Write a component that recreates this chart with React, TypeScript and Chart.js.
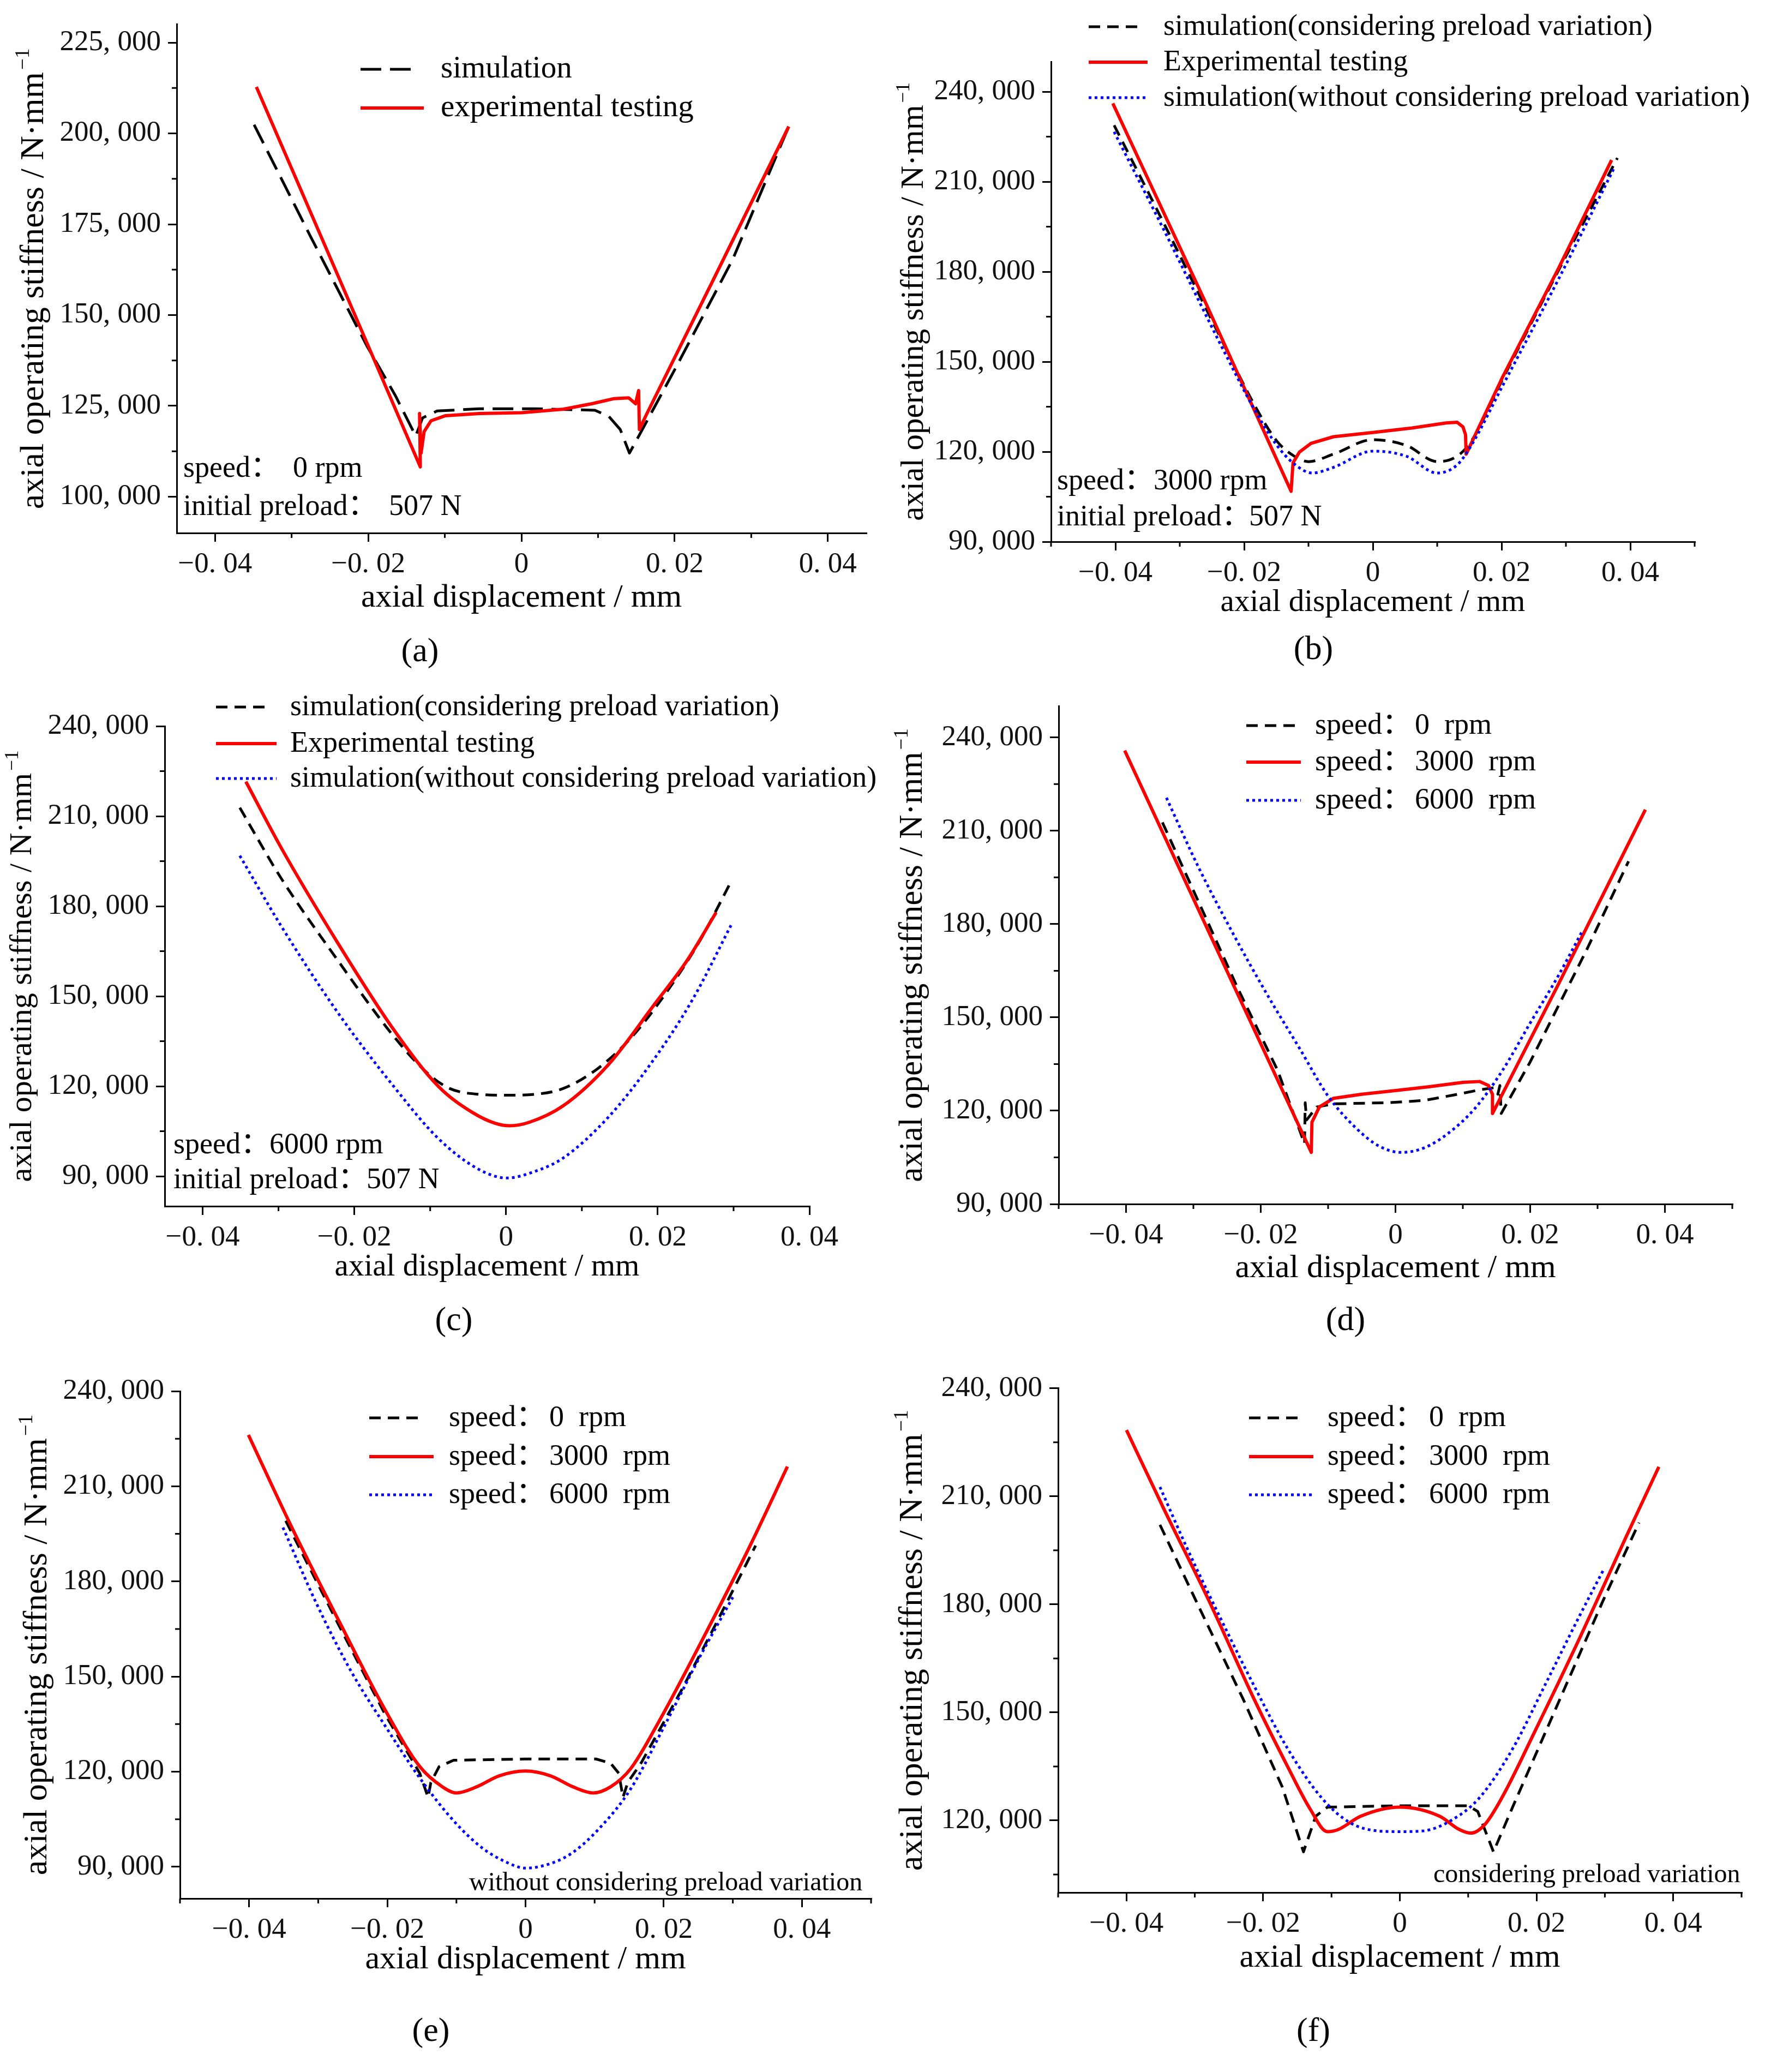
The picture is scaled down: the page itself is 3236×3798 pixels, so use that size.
import { useEffect, useRef } from 'react'
import { Chart, registerables } from 'chart.js'

Chart.register(...registerables)

type Pt = [number, number]

// (a) speed 0 rpm, initial preload 507 N
const aSimulation: Pt[] = [
  [-0.0349, 202400], [-0.0276, 171900], [-0.0202, 141600], [-0.0165, 128000], [-0.0138, 116700],
  [-0.0129, 121700], [-0.011, 123600], [-0.0055, 124200], [0.0018, 124200], [0.0096, 123800],
  [0.0114, 122100], [0.0129, 118500], [0.0141, 112000], [0.0154, 117000], [0.0202, 135700],
  [0.0276, 165400], [0.0349, 201900],
]
const aExperiment: Pt[] = [
  [-0.0346, 212800], [-0.0239, 160600], [-0.0132, 108200], [-0.0133, 122900], [-0.0131, 112000],
  [-0.0127, 117900], [-0.0118, 120900], [-0.0099, 122300], [-0.0055, 122900], [0, 123100],
  [0.0055, 124100], [0.0092, 125600], [0.0121, 127000], [0.014, 127200], [0.0149, 125600],
  [0.0153, 129200], [0.0154, 118500], [0.0162, 122100], [0.0254, 161200], [0.0349, 201900],
]

// (b) speed 3000 rpm
const bSimPreload: Pt[] = [
  [-0.0402, 228800], [-0.0323, 195400], [-0.0236, 157700], [-0.0183, 135200], [-0.0149, 123500],
  [-0.0122, 118500], [-0.01, 116700], [-0.0061, 119200], [0, 124000], [0.0052, 122100],
  [0.01, 116700], [0.0131, 118500], [0.0153, 123500], [0.0201, 143900], [0.0288, 180200],
  [0.038, 217900],
]
const bExperiment: Pt[] = [
  [-0.0404, 236100], [-0.0262, 170700], [-0.0127, 106800], [-0.0124, 116300], [-0.0114, 119900],
  [-0.0096, 122800], [-0.0061, 125000], [0, 126400], [0.0061, 127900], [0.0114, 129600],
  [0.0131, 129800], [0.014, 128300], [0.0144, 125700], [0.0145, 119200], [0.0201, 144600],
  [0.0288, 180900], [0.0371, 217200],
]
const bSimNoPreload: Pt[] = [
  [-0.0402, 226600], [-0.0323, 193200], [-0.0236, 155500], [-0.0183, 133700], [-0.0149, 122100],
  [-0.0122, 115900], [-0.0094, 112900], [-0.0061, 114800], [0, 120200], [0.0052, 118500],
  [0.01, 112900], [0.0131, 115600], [0.0153, 122100], [0.0201, 141700], [0.0288, 177300],
  [0.0376, 215000],
]

// (c) speed 6000 rpm
const cSimPreload: Pt[] = [
  [-0.0351, 212800], [-0.0297, 189500], [-0.0222, 162000], [-0.0148, 136600], [-0.0103, 124200],
  [-0.0074, 119200], [-0.0036, 117300], [0.0001, 117000], [0.0038, 117300], [0.0075, 119200],
  [0.012, 125700], [0.0164, 135900], [0.0209, 150400], [0.0254, 167800], [0.0298, 188800],
]
const cExperiment: Pt[] = [
  [-0.0343, 221500], [-0.0297, 199700], [-0.0222, 167800], [-0.0148, 138800], [-0.0089, 119900],
  [-0.0044, 111200], [-0.0014, 107600], [0.0005, 106800], [0.0031, 108000], [0.0075, 113400],
  [0.0135, 127200], [0.0194, 146700], [0.0239, 162000], [0.0277, 177900],
]
const cSimNoPreload: Pt[] = [
  [-0.0351, 196800], [-0.0297, 173600], [-0.0222, 144600], [-0.0148, 119900], [-0.0089, 102500],
  [-0.0036, 92300], [0.0001, 89400], [0.0038, 91600], [0.0075, 96000], [0.0135, 109700],
  [0.0194, 128600], [0.0246, 148900], [0.0298, 174300],
]

// (d) experimental testing at three speeds
const dSpeed0: Pt[] = [
  [-0.0346, 212700], [-0.0292, 187000], [-0.0234, 159300], [-0.0175, 133000], [-0.0135, 109400],
  [-0.0134, 122600], [-0.0132, 117000], [-0.0117, 121200], [-0.0092, 122200], [-0.0008, 122600],
  [0.0042, 123300], [0.0083, 124900], [0.0125, 126700], [0.0146, 127400], [0.0152, 125300],
  [0.0155, 128100], [0.0157, 119100], [0.02, 135700], [0.0284, 171800], [0.0346, 200200],
]
const dSpeed3000: Pt[] = [
  [-0.0402, 235800], [-0.0259, 169000], [-0.0125, 106600], [-0.0124, 116300], [-0.0113, 121200],
  [-0.0092, 124000], [-0.005, 125300], [0, 126500], [0.005, 127700], [0.01, 129100],
  [0.0125, 129400], [0.0138, 128100], [0.0144, 125300], [0.0144, 119100], [0.0242, 160700],
  [0.0371, 216800],
]
const dSpeed6000: Pt[] = [
  [-0.034, 220600], [-0.0292, 198100], [-0.0242, 177300], [-0.0192, 157900], [-0.0142, 139900],
  [-0.01, 124700], [-0.0058, 114300], [-0.0025, 108700], [0.0008, 106600], [0.0042, 108000],
  [0.0075, 112200], [0.0117, 120500], [0.0159, 133000], [0.02, 148200], [0.0242, 163500],
  [0.0277, 177600],
]

// (e) without considering preload variation
const eSpeed0: Pt[] = [
  [-0.0347, 199100], [-0.0269, 165700], [-0.0203, 138000], [-0.0153, 119500], [-0.0141, 111900],
  [-0.0137, 116600], [-0.0125, 121600], [-0.0104, 123600], [0, 124000], [0.0102, 124000],
  [0.0123, 122700], [0.0135, 119500], [0.0141, 111900], [0.0148, 116600], [0.0168, 123000],
  [0.0226, 145800], [0.0275, 166400], [0.0333, 191300],
]
const eSpeed3000: Pt[] = [
  [-0.0401, 226200], [-0.0335, 195600], [-0.0269, 167100], [-0.0203, 139400], [-0.0153, 121600],
  [-0.012, 115200], [-0.01, 113300], [-0.0071, 115200], [-0.0038, 118700], [0, 120200],
  [0.0036, 118700], [0.0069, 115200], [0.0098, 113300], [0.0123, 115200], [0.0152, 120900],
  [0.0193, 135800], [0.0259, 162900], [0.0325, 191300], [0.0379, 216200],
]
const eSpeed6000: Pt[] = [
  [-0.0351, 197000], [-0.0302, 172800], [-0.0252, 151500], [-0.0203, 134400], [-0.0153, 118000],
  [-0.0104, 104500], [-0.0063, 96000], [-0.003, 91700], [0, 89600], [0.0036, 91000],
  [0.0069, 94600], [0.0111, 103100], [0.0152, 114500], [0.0201, 134400], [0.0251, 155700],
  [0.03, 175000],
]

// (f) considering preload variation
const fSpeed0: Pt[] = [
  [-0.0351, 202100], [-0.0295, 179700], [-0.0229, 153600], [-0.0172, 129300], [-0.0141, 111300],
  [-0.0123, 121200], [-0.0106, 123700], [0, 124100], [0.01, 124100], [0.0114, 122500],
  [0.0137, 111300], [0.0165, 123700], [0.0231, 152300], [0.0297, 180900], [0.035, 202700],
]
const fSpeed3000: Pt[] = [
  [-0.04, 228400], [-0.0345, 206400], [-0.0279, 180900], [-0.0213, 153600], [-0.0164, 134900],
  [-0.0131, 123100], [-0.0106, 116900], [-0.009, 117500], [-0.0057, 121200], [0, 123700],
  [0.0058, 121200], [0.0087, 117500], [0.0104, 116500], [0.0124, 118800], [0.0149, 126200],
  [0.0198, 144900], [0.0264, 171000], [0.033, 198300], [0.0379, 218200],
]
const fSpeed6000: Pt[] = [
  [-0.0351, 212600], [-0.0312, 195900], [-0.0262, 176000], [-0.0213, 157300], [-0.0164, 139900],
  [-0.0114, 126200], [-0.0073, 119400], [-0.0032, 117100], [0, 116900], [0.0034, 117100],
  [0.0075, 120000], [0.0116, 126200], [0.0165, 139900], [0.0215, 158600], [0.0264, 177200],
  [0.0298, 189600],
]

// ticks
const xMajor = [-0.04, -0.02, 0, 0.02, 0.04]
const xMinorNarrow = [-0.03, -0.01, 0.01, 0.03]
const xMinorWide = [-0.05, -0.03, -0.01, 0.01, 0.03, 0.05]
const yMajorA = [100000, 125000, 150000, 175000, 200000, 225000]
const yMinorA = [112500, 137500, 162500, 187500, 212500]
const yMajor = [90000, 120000, 150000, 180000, 210000, 240000]
const yMajorF = [120000, 150000, 180000, 210000, 240000]
const yMinor = [105000, 135000, 165000, 195000, 225000]

// legend labels
const legendA = ['simulation', 'experimental testing']
const legendSim = [
  'simulation(considering preload variation)',
  'Experimental testing',
  'simulation(without considering preload variation)',
]
const speedLabels = ['0  rpm', '3000  rpm', '6000  rpm']

const SERIF = '"Liberation Serif", "Noto Sans CJK SC", serif'
const X_TITLE = 'axial displacement / mm'
const Y_TITLE = 'axial operating stiffness / N·mm'

type Style = { color: string; width: number; dash: number[] }
const BLACK_LONG: Style = { color: '#000000', width: 5, dash: [38, 16] }
const BLACK: Style = { color: '#000000', width: 5, dash: [21, 13] }
const RED: Style = { color: '#ff0000', width: 6, dash: [] }
const BLUE: Style = { color: '#0000ff', width: 5, dash: [5, 6] }

type Row = { y: number; style?: Style; x2?: number; parts: [string, number][] }
type Panel = {
  box: [number, number, number, number]
  area: [number, number, number, number]
  x: [number, number]
  y: [number, number]
  yTicks: number[]
  yMinor: number[]
  xMinor: number[]
  series: { data: Pt[]; style: Style; smooth: boolean }[]
  legend: { x1: number; x2: number; size: number; rows: Row[] }
  notes: { size: number; rows: Row[] }
  caption: [string, number, number]
  xTitle: { y: number; size: number }
  yTitle: { x: number; size: number }
}

const speedRows = (ys: number[], x1: number, xa: number, xb: number): Row[] => [
  { y: ys[0], style: BLACK, x2: x1 + 89, parts: [['speed：', xa], [speedLabels[0], xb]] },
  { y: ys[1], style: RED, parts: [['speed：', xa], [speedLabels[1], xb]] },
  { y: ys[2], style: BLUE, parts: [['speed：', xa], [speedLabels[2], xb]] },
]

const panels: Panel[] = [
  {
    box: [0, 0, 1620, 1250],
    area: [324, 36, 1588, 977],
    x: [-0.045, 0.045],
    y: [90000, 230000],
    yTicks: yMajorA,
    yMinor: yMinorA,
    xMinor: xMinorNarrow,
    series: [
      { data: aSimulation, style: BLACK_LONG, smooth: false },
      { data: aExperiment, style: RED, smooth: false },
    ],
    legend: {
      x1: 661, x2: 777, size: 57,
      rows: [
        { y: 127, style: BLACK_LONG, x2: 753, parts: [[legendA[0], 808]] },
        { y: 198, style: RED, parts: [[legendA[1], 808]] },
      ],
    },
    notes: {
      size: 54,
      rows: [
        { y: 859, parts: [['speed：', 336], ['0 rpm', 537]] },
        { y: 929, parts: [['initial preload：', 336], ['507 N', 713]] },
      ],
    },
    caption: ['(a)', 770, 1196],
    xTitle: { y: 1112, size: 60 },
    yTitle: { x: 79, size: 62 },
  },
  {
    box: [1620, 0, 1616, 1250],
    area: [1927, 113, 3107, 993],
    x: [-0.05, 0.05],
    y: [90000, 250000],
    yTicks: yMajor,
    yMinor,
    xMinor: xMinorWide,
    series: [
      { data: bSimPreload, style: BLACK, smooth: true },
      { data: bExperiment, style: RED, smooth: false },
      { data: bSimNoPreload, style: BLUE, smooth: true },
    ],
    legend: {
      x1: 1996, x2: 2104, size: 54,
      rows: [
        { y: 49, style: BLACK, x2: 2085, parts: [[legendSim[0], 2133]] },
        { y: 114, style: RED, parts: [[legendSim[1], 2133]] },
        { y: 179, style: BLUE, parts: [[legendSim[2], 2133]] },
      ],
    },
    notes: {
      size: 54,
      rows: [
        { y: 882, parts: [['speed：', 1938], ['3000 rpm', 2115]] },
        { y: 948, parts: [['initial preload：', 1938], ['507 N', 2290]] },
      ],
    },
    caption: ['(b)', 2408, 1192],
    xTitle: { y: 1120, size: 57 },
    yTitle: { x: 1692, size: 59 },
  },
  {
    box: [0, 1250, 1620, 1250],
    area: [302, 1331, 1484, 2211],
    x: [-0.045, 0.04],
    y: [80000, 240000],
    yTicks: yMajor,
    yMinor,
    xMinor: xMinorNarrow,
    series: [
      { data: cSimPreload, style: BLACK, smooth: true },
      { data: cExperiment, style: RED, smooth: true },
      { data: cSimNoPreload, style: BLUE, smooth: true },
    ],
    legend: {
      x1: 396, x2: 507, size: 54,
      rows: [
        { y: 1296, style: BLACK, x2: 485, parts: [[legendSim[0], 532]] },
        { y: 1363, style: RED, parts: [[legendSim[1], 532]] },
        { y: 1427, style: BLUE, parts: [[legendSim[2], 532]] },
      ],
    },
    notes: {
      size: 54,
      rows: [
        { y: 2099, parts: [['speed：', 318], ['6000 rpm', 494]] },
        { y: 2163, parts: [['initial preload：', 318], ['507 N', 672]] },
      ],
    },
    caption: ['(c)', 832, 2422],
    xTitle: { y: 2338, size: 57 },
    yTitle: { x: 57, size: 58 },
  },
  {
    box: [1620, 1250, 1616, 1250],
    area: [1941, 1287, 3176, 2207],
    x: [-0.05, 0.05],
    y: [90000, 250000],
    yTicks: yMajor,
    yMinor,
    xMinor: xMinorWide,
    series: [
      { data: dSpeed0, style: BLACK, smooth: false },
      { data: dSpeed3000, style: RED, smooth: false },
      { data: dSpeed6000, style: BLUE, smooth: true },
    ],
    legend: { x1: 2285, x2: 2385, size: 54, rows: speedRows([1330, 1397, 1467], 2285, 2411, 2594) },
    notes: { size: 54, rows: [] },
    caption: ['(d)', 2467, 2422],
    xTitle: { y: 2341, size: 60 },
    yTitle: { x: 1690, size: 61 },
  },
  {
    box: [0, 2500, 1620, 1298],
    area: [330, 2550, 1597, 3480],
    x: [-0.05, 0.05],
    y: [80000, 240000],
    yTicks: yMajor,
    yMinor,
    xMinor: xMinorWide,
    series: [
      { data: eSpeed0, style: BLACK, smooth: false },
      { data: eSpeed3000, style: RED, smooth: true },
      { data: eSpeed6000, style: BLUE, smooth: true },
    ],
    legend: { x1: 677, x2: 795, size: 54, rows: speedRows([2599, 2670, 2740], 677, 823, 1007) },
    notes: { size: 48, rows: [{ y: 3452, parts: [['without considering preload variation', 860]] }] },
    caption: ['(e)', 790, 3725],
    xTitle: { y: 3608, size: 60 },
    yTitle: { x: 85, size: 62 },
  },
  {
    box: [1620, 2500, 1616, 1298],
    area: [1940, 2537, 3193, 3469],
    x: [-0.05, 0.05],
    y: [100000, 240000],
    yTicks: yMajorF,
    yMinor,
    xMinor: xMinorWide,
    series: [
      { data: fSpeed0, style: BLACK, smooth: false },
      { data: fSpeed3000, style: RED, smooth: true },
      { data: fSpeed6000, style: BLUE, smooth: true },
    ],
    legend: { x1: 2290, x2: 2408, size: 54, rows: speedRows([2599, 2670, 2740], 2290, 2434, 2620) },
    notes: { size: 48, rows: [{ y: 3437, parts: [['considering preload variation', 2628]] }] },
    caption: ['(f)', 2408, 3725],
    xTitle: { y: 3605, size: 60 },
    yTitle: { x: 1690, size: 62 },
  },
]

const fmtX = (v: number) => {
  if (Math.abs(v) < 1e-9) return '0'
  return (v < 0 ? '−' : '') + '0. ' + String(Math.round(Math.abs(v) * 100)).padStart(2, '0')
}
const fmtY = (v: number) => `${Math.floor(v / 1000)}, ${String(Math.round(v % 1000)).padStart(3, '0')}`

function decor(p: Panel) {
  return {
    id: 'decor',
    afterDraw(chart: any) {
      const ctx: CanvasRenderingContext2D = chart.ctx
      const [x0, y0] = p.box
      const ca = chart.chartArea
      const xs = chart.scales.x
      const ys = chart.scales.y
      ctx.save()

      // minor ticks
      ctx.strokeStyle = '#000'
      ctx.lineWidth = 3
      ctx.setLineDash([])
      ctx.beginPath()
      for (const v of p.xMinor) {
        const px = xs.getPixelForValue(v)
        ctx.moveTo(px, ca.bottom)
        ctx.lineTo(px, ca.bottom + 9)
      }
      for (const v of p.yMinor) {
        const py = ys.getPixelForValue(v)
        ctx.moveTo(ca.left, py)
        ctx.lineTo(ca.left - 9, py)
      }
      ctx.stroke()

      // legend
      const lg = p.legend
      for (const row of lg.rows) {
        if (row.style) {
          ctx.strokeStyle = row.style.color
          ctx.lineWidth = row.style.width
          ctx.setLineDash(row.style.dash)
          ctx.beginPath()
          ctx.moveTo(lg.x1 - x0, row.y - y0)
          ctx.lineTo((row.x2 ?? lg.x2) - x0, row.y - y0)
          ctx.stroke()
          ctx.setLineDash([])
        }
        ctx.fillStyle = '#000'
        ctx.font = `${lg.size}px ${SERIF}`
        ctx.textAlign = 'left'
        ctx.textBaseline = 'alphabetic'
        for (const [t, tx] of row.parts) ctx.fillText(t, tx - x0, row.y - y0 + lg.size * 0.27)
      }

      // notes inside the plot
      ctx.font = `${p.notes.size}px ${SERIF}`
      for (const row of p.notes.rows) {
        for (const [t, tx] of row.parts) ctx.fillText(t, tx - x0, row.y - y0 + p.notes.size * 0.28)
      }

      // x title
      ctx.font = `${p.xTitle.size}px ${SERIF}`
      ctx.textAlign = 'center'
      ctx.fillText(X_TITLE, (ca.left + ca.right) / 2, p.xTitle.y - y0)

      // y title with superscript
      const fs = p.yTitle.size
      ctx.save()
      ctx.translate(p.yTitle.x - x0, (ca.top + ca.bottom) / 2)
      ctx.rotate(-Math.PI / 2)
      ctx.textAlign = 'left'
      ctx.font = `${fs}px ${SERIF}`
      const wMain = ctx.measureText(Y_TITLE).width
      ctx.font = `${Math.round(fs * 0.6)}px ${SERIF}`
      const wSup = ctx.measureText('−1').width
      const start = -(wMain + wSup + 4) / 2
      ctx.font = `${fs}px ${SERIF}`
      ctx.fillText(Y_TITLE, start, 0)
      ctx.font = `${Math.round(fs * 0.6)}px ${SERIF}`
      ctx.fillText('−1', start + wMain + 4, -fs * 0.42)
      ctx.restore()

      // caption
      const [ct, cx, cy] = p.caption
      ctx.font = `62px ${SERIF}`
      ctx.textAlign = 'center'
      ctx.textBaseline = 'middle'
      ctx.fillText(ct, cx - x0, cy - y0)

      ctx.restore()
    },
  }
}

function PanelChart({ p }: { p: Panel }) {
  const canvasRef = useRef<HTMLCanvasElement>(null)
  const [x0, y0, w, h] = p.box

  useEffect(() => {
    if (!canvasRef.current) return
    const [L, T, R, B] = p.area
    const n = p.series.length
    const axisGrid = {
      drawOnChartArea: false,
      drawTicks: true,
      tickLength: 16,
      tickWidth: 3,
      tickColor: '#000',
      lineWidth: 3,
      color: '#000',
    }
    const chart = new Chart(canvasRef.current, {
      type: 'line',
      data: {
        datasets: p.series.map((s, i) => ({
          data: s.data.map(([x, y]) => ({ x, y })),
          borderColor: s.style.color,
          borderWidth: s.style.width,
          borderDash: s.style.dash,
          borderJoinStyle: 'round',
          pointRadius: 0,
          fill: false,
          tension: 0,
          cubicInterpolationMode: s.smooth ? 'monotone' : 'default',
          order: n - 1 - i,
        })),
      },
      options: {
        responsive: false,
        maintainAspectRatio: false,
        devicePixelRatio: 1,
        animation: false,
        events: [],
        layout: { padding: { left: 0, top: T - y0, right: x0 + w - R, bottom: 0 } },
        plugins: { legend: { display: false }, tooltip: { enabled: false } },
        scales: {
          x: {
            type: 'linear',
            position: 'bottom',
            min: p.x[0],
            max: p.x[1],
            afterBuildTicks: (scale: any) => {
              scale.ticks = xMajor.map((v) => ({ value: v }))
            },
            afterFit: (scale: any) => {
              scale.height = y0 + h - B
            },
            grid: axisGrid,
            border: { display: true, width: 3, color: '#000' },
            ticks: {
              autoSkip: false,
              maxRotation: 0,
              padding: 10,
              color: '#111',
              font: { family: SERIF, size: 53 },
              callback: (v: any) => fmtX(Number(v)),
            },
          },
          y: {
            type: 'linear',
            position: 'left',
            min: p.y[0],
            max: p.y[1],
            afterBuildTicks: (scale: any) => {
              scale.ticks = p.yTicks.map((v) => ({ value: v }))
            },
            afterFit: (scale: any) => {
              scale.width = L - x0
            },
            grid: axisGrid,
            border: { display: true, width: 3, color: '#000' },
            ticks: {
              autoSkip: false,
              padding: 13,
              color: '#111',
              font: { family: SERIF, size: 53 },
              callback: (v: any) => fmtY(Number(v)),
            },
          },
        },
      } as any,
      plugins: [decor(p)],
    })
    return () => chart.destroy()
  }, [p])

  return (
    <canvas
      ref={canvasRef}
      width={w}
      height={h}
      style={{ position: 'absolute', left: x0, top: y0, width: w, height: h }}
    />
  )
}

export default function App() {
  return (
    <div style={{ position: 'absolute', left: 0, top: 0, width: 3236, height: 3798, background: '#fff' }}>
      {panels.map((p, i) => (
        <PanelChart key={i} p={p} />
      ))}
    </div>
  )
}
